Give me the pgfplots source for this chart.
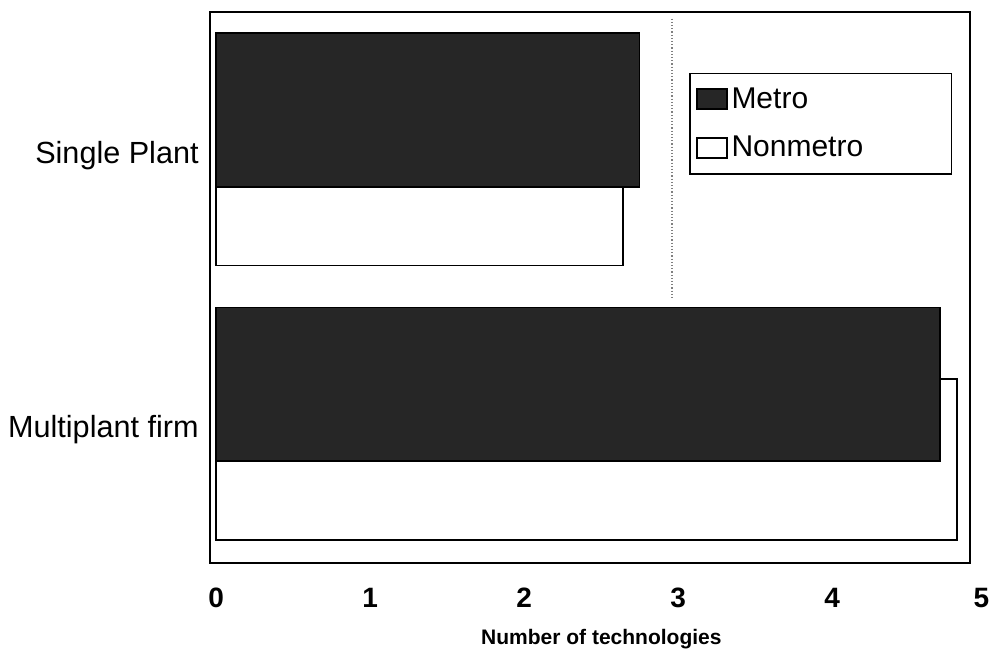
\documentclass[border=0pt]{standalone}
\usepackage{fontspec}
\setmainfont{Liberation Sans}
\usepackage{pgfplots}
\pgfplotsset{compat=1.18}

\begin{document}
\begin{tikzpicture}
\begin{axis}[
  scale only axis,
  width=380pt, height=275.5pt,
  xmin=-0.04, xmax=4.896,
  ymin=-0.514, ymax=1.494,
  xtick={0,1,2,3,4},
  ytick={0,1},
  yticklabels={Multiplant firm, Single Plant},
  major tick length=0pt,
  /pgf/number format/assume math mode=true,
  xticklabel style={font=\bfseries\fontsize{14}{16}\selectfont, yshift=-9pt},
  yticklabel style={font=\fontsize{15.3}{17}\selectfont, inner xsep=0pt, xshift=-5.5pt, yshift=-4pt},
  xlabel={Number of technologies},
  xlabel style={font=\bfseries\fontsize{10.5}{12}\selectfont, inner sep=0pt, at={(axis description cs:0.515,-0.138)}, anchor=center},
  axis line style={line width=1pt},
  clip=false,
  legend style={
    at={(axis description cs:0.63,0.89)}, anchor=north west,
    draw=black, line width=0.9pt, fill=white,
    font=\fontsize{15}{17}\selectfont,
    inner xsep=3pt, inner ysep=5pt,
    row sep=8.5pt,
    text width=105pt,
  },
  legend cell align=left,
  legend image code/.code={\draw[#1] (0pt,-5pt) rectangle (15pt,5pt);},
  reverse legend,
]
% nonmetro bars sit behind, shifted down
\addplot[xbar, bar width=0.585, bar shift=-0.137, fill=white, draw=black, line width=0.9pt]
  coordinates {(4.81,0) (2.64,1)};
\addlegendentry{Nonmetro}
% metro bars in front, shifted up
\addplot[xbar, bar width=0.56, bar shift=0.137, fill=black!85, draw=black, line width=0.9pt]
  coordinates {(4.70,0) (2.75,1)};
\addlegendentry{Metro}
% faint dotted gridline fragment
\addplot[densely dotted, gray, line width=0.6pt, forget plot]
  coordinates {(2.96,1.47) (2.96,0.45)};
% last tick label, just past the right edge of the frame
\node[font=\bfseries\fontsize{14}{16}\selectfont, anchor=north, yshift=-9pt]
  at (axis cs:4.97,-0.514) {5};
\end{axis}
\pgfresetboundingbox
\path ([shift={(-105pt,-45pt)}]current axis.south west) rectangle ([shift={(390.5pt,281.5pt)}]current axis.south west);
\end{tikzpicture}
\end{document}
